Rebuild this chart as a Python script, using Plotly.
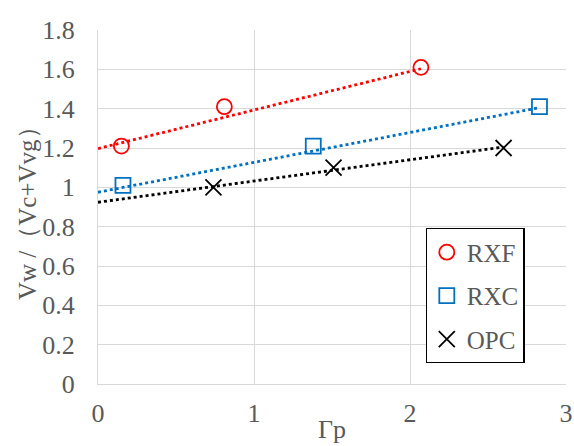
import plotly.graph_objects as go

# Data
rxf_x = [0.15, 0.81, 2.07]
rxf_y = [1.21, 1.41, 1.61]
rxc_x = [0.16, 1.38, 2.83]
rxc_y = [1.01, 1.21, 1.41]
opc_x = [0.74, 1.51, 2.60]
opc_y = [1.00, 1.10, 1.20]

# Linear trendline end points
rxf_trend_x = [0.0, 2.07]
rxf_trend_y = [1.197, 1.603]
rxc_trend_x = [0.0, 2.83]
rxc_trend_y = [0.975, 1.405]
opc_trend_x = [0.0, 2.60]
opc_trend_y = [0.924, 1.205]

x_ticks = [0, 1, 2, 3]
y_ticks = [0, 0.2, 0.4, 0.6, 0.8, 1, 1.2, 1.4, 1.6, 1.8]
y_tick_text = ["0", "0.2", "0.4", "0.6", "0.8", "1", "1.2", "1.4", "1.6", "1.8"]

x_title = "Γp"
y_title = "Vw /（Vc+Vvg）"

FONT = "Liberation Serif"
GREY = "#595959"
GRID = "#D9D9D9"

fig = go.Figure()

# trendlines
for tx, ty, col in [(rxf_trend_x, rxf_trend_y, "#FF0000"),
                    (rxc_trend_x, rxc_trend_y, "#0070C0"),
                    (opc_trend_x, opc_trend_y, "#000000")]:
    fig.add_trace(go.Scatter(x=tx, y=ty, mode="lines", showlegend=False,
                             hoverinfo="skip",
                             line=dict(color=col, width=2.8, dash="dot")))

fig.add_trace(go.Scatter(x=rxf_x, y=rxf_y, mode="markers", name="RXF", legendgroup="a",
                         marker=dict(symbol="circle-open", size=15, color="#FF0000",
                                     line=dict(width=1.8, color="#FF0000"))))
fig.add_trace(go.Scatter(x=rxc_x, y=rxc_y, mode="markers", name="RXC", legendgroup="b",
                         marker=dict(symbol="square-open", size=15, color="#0070C0",
                                     line=dict(width=1.8, color="#0070C0"))))
fig.add_trace(go.Scatter(x=opc_x, y=opc_y, mode="markers", name="OPC", legendgroup="c",
                         marker=dict(symbol="x-thin-open", size=16, color="#000000",
                                     line=dict(width=1.8, color="#000000"))))

fig.update_layout(
    width=574, height=446,
    margin=dict(l=98, r=8, t=30, b=62),
    paper_bgcolor="white", plot_bgcolor="white",
    font=dict(family=FONT, size=26, color=GREY),
    xaxis=dict(range=[0, 3], tickvals=x_ticks, showgrid=True, gridcolor=GRID, gridwidth=1,
               zeroline=False, showline=True, linecolor=GRID, linewidth=1, mirror=False,
               ticks="", ticklabelstandoff=6, automargin=False,
               tickfont=dict(family=FONT, size=26, color=GREY)),
    yaxis=dict(range=[0, 1.8], tickvals=y_ticks, ticktext=y_tick_text, showgrid=True,
               gridcolor=GRID, gridwidth=1, zeroline=False, showline=True, linecolor=GRID,
               linewidth=1, ticks="", ticklabelstandoff=17, automargin=False,
               tickfont=dict(family=FONT, size=26, color=GREY)),
    legend=dict(x=0.70, y=0.44, xanchor="left", yanchor="top",
                bgcolor="white", bordercolor="black", borderwidth=1.2,
                font=dict(family=FONT, size=25, color=GREY),
                tracegroupgap=8, itemwidth=30),
    showlegend=True,
    annotations=[
        dict(text=x_title, xref="paper", yref="paper", x=0.5, y=0, xanchor="center",
             yanchor="bottom", yshift=-62, showarrow=False,
             font=dict(family=FONT, size=26, color=GREY)),
        dict(text=y_title, xref="paper", yref="paper", x=0, y=0.5, xanchor="center",
             yanchor="middle", xshift=-71, textangle=-90, showarrow=False,
             font=dict(family=FONT, size=25, color=GREY)),
    ],
)

fig.write_html("out.html", config={"displayModeBar": False},
               post_script="document.body.style.margin='0';document.body.style.padding='0';")
